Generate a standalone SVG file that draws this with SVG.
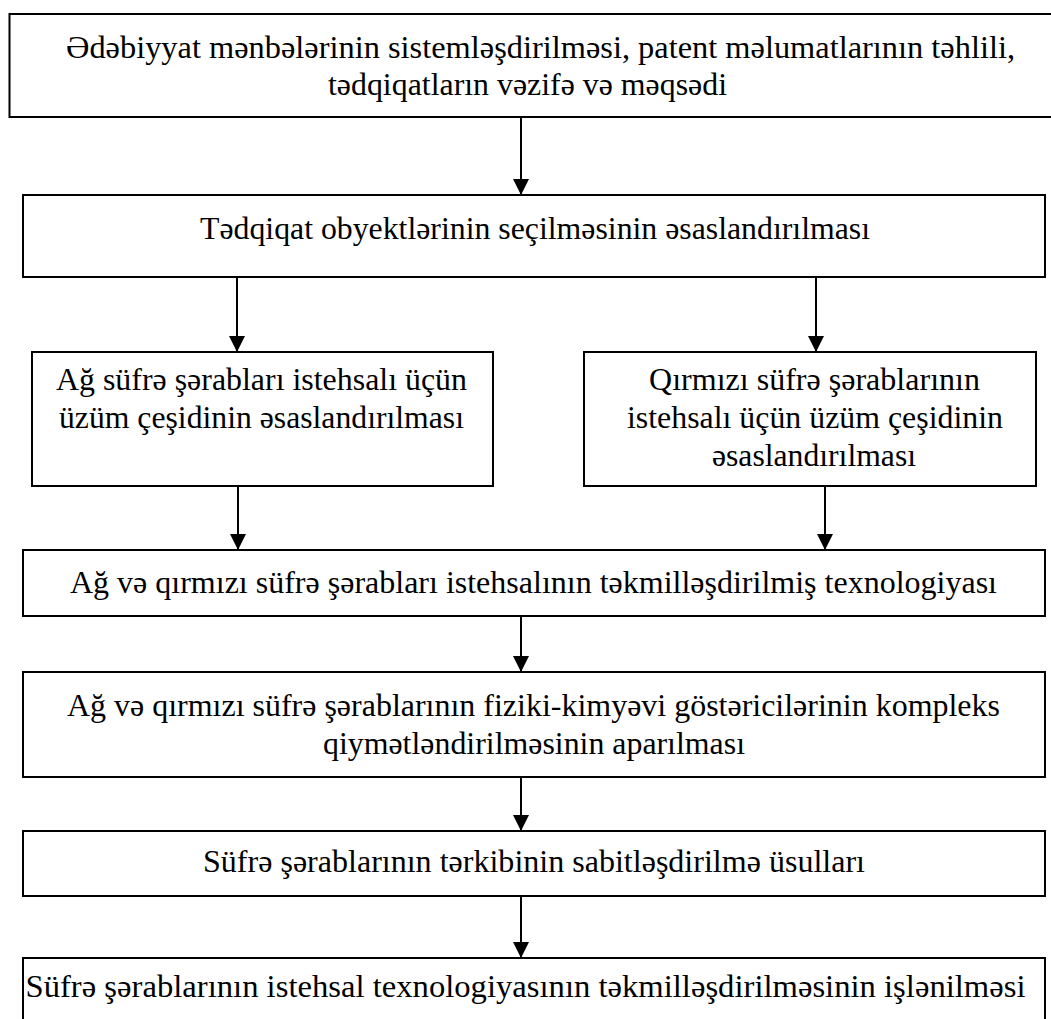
<svg xmlns="http://www.w3.org/2000/svg" width="1051" height="1019" viewBox="0 0 1051 1019">
<style>
.box{fill:#fff;stroke:#000;stroke-width:2}
.t{font-family:"Liberation Serif","DejaVu Serif","Times New Roman",serif;font-size:31px;fill:#000}
.c{stroke:#000;stroke-width:2;fill:none}
</style>
<defs>
<marker id="ah" markerUnits="userSpaceOnUse" markerWidth="16" markerHeight="16" refX="16" refY="8" orient="auto" viewBox="0 0 16 16">
<path d="M0,0 L16,8 L0,16 Z" fill="#000"/>
</marker>
</defs>
<rect width="1051" height="1019" fill="#fff"/>
<g id="connectors">
<line class="c" x1="521" y1="117" x2="521" y2="195" marker-end="url(#ah)"/>
<line class="c" x1="237" y1="277" x2="237" y2="352" marker-end="url(#ah)"/>
<line class="c" x1="816" y1="277" x2="816" y2="352" marker-end="url(#ah)"/>
<line class="c" x1="238" y1="486" x2="238" y2="550" marker-end="url(#ah)"/>
<line class="c" x1="825" y1="486" x2="825" y2="550" marker-end="url(#ah)"/>
<line class="c" x1="521" y1="616" x2="521" y2="672" marker-end="url(#ah)"/>
<line class="c" x1="521" y1="777" x2="521" y2="831" marker-end="url(#ah)"/>
<line class="c" x1="521" y1="896" x2="521" y2="958" marker-end="url(#ah)"/>
</g>
<g id="n1">
<rect class="box" x="9.5" y="14" width="1060" height="103"/>
<text class="t" x="66" y="58" textLength="949" lengthAdjust="spacingAndGlyphs">Ədəbiyyat mənbələrinin sistemləşdirilməsi, patent məlumatlarının təhlili,</text>
<text class="t" x="328" y="95" textLength="399" lengthAdjust="spacingAndGlyphs">tədqiqatların vəzifə və məqsədi</text>
</g>
<g id="n2">
<rect class="box" x="23" y="195" width="1022" height="82"/>
<text class="t" x="200" y="239" textLength="670" lengthAdjust="spacingAndGlyphs">Tədqiqat obyektlərinin seçilməsinin əsaslandırılması</text>
</g>
<g id="n3">
<rect class="box" x="32" y="352" width="461" height="134"/>
<text class="t" x="56" y="390" textLength="411" lengthAdjust="spacingAndGlyphs">Ağ süfrə şərabları istehsalı üçün</text>
<text class="t" x="59" y="428" textLength="405" lengthAdjust="spacingAndGlyphs">üzüm çeşidinin əsaslandırılması</text>
</g>
<g id="n4">
<rect class="box" x="584" y="352" width="452" height="134"/>
<text class="t" x="649" y="390" textLength="331" lengthAdjust="spacingAndGlyphs">Qırmızı süfrə şərablarının</text>
<text class="t" x="627" y="428" textLength="376" lengthAdjust="spacingAndGlyphs">istehsalı üçün üzüm çeşidinin</text>
<text class="t" x="712" y="466" textLength="204" lengthAdjust="spacingAndGlyphs">əsaslandırılması</text>
</g>
<g id="n5">
<rect class="box" x="23" y="550" width="1022" height="66"/>
<text class="t" x="70" y="593" textLength="927" lengthAdjust="spacingAndGlyphs">Ağ və qırmızı süfrə şərabları istehsalının təkmilləşdirilmiş texnologiyası</text>
</g>
<g id="n6">
<rect class="box" x="23" y="672" width="1022" height="105"/>
<text class="t" x="67" y="716" textLength="933" lengthAdjust="spacingAndGlyphs">Ağ və qırmızı süfrə şərablarının fiziki-kimyəvi göstəricilərinin kompleks</text>
<text class="t" x="323" y="754" textLength="422" lengthAdjust="spacingAndGlyphs">qiymətləndirilməsinin aparılması</text>
</g>
<g id="n7">
<rect class="box" x="23" y="831" width="1022" height="65"/>
<text class="t" x="203" y="872" textLength="662" lengthAdjust="spacingAndGlyphs">Süfrə şərablarının tərkibinin sabitləşdirilmə üsulları</text>
</g>
<g id="n8">
<rect class="box" x="23" y="958" width="1022" height="80"/>
<text class="t" x="25.5" y="997" textLength="1000" lengthAdjust="spacingAndGlyphs">Süfrə şərablarının istehsal texnologiyasının təkmilləşdirilməsinin işlənilməsi</text>
</g>
</svg>
